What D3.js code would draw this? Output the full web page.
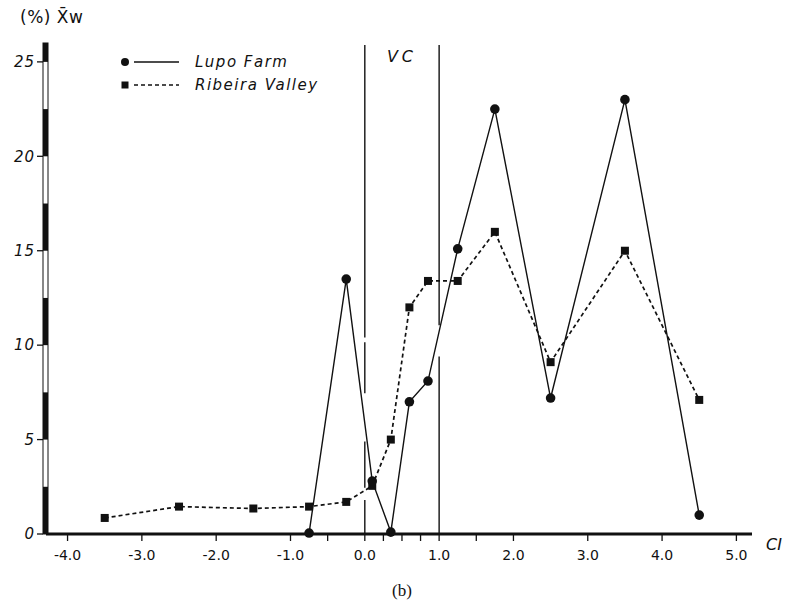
<!DOCTYPE html>
<html>
<head>
<meta charset="utf-8">
<script src="https://cdn.jsdelivr.net/npm/d3@7"></script>
<style>
  body { margin: 0; background: #fff; }
  text { fill: #111; }
</style>
</head>
<body>
<div id="my_dataviz"></div>
<script>
// data
var lupoCI = [-0.75, -0.25, 0.1, 0.35, 0.6, 0.85, 1.25, 1.75, 2.5, 3.5, 4.5];
var lupoXw = [0.05, 13.5, 2.8, 0.1, 7.0, 8.1, 15.1, 22.5, 7.2, 23.0, 1.0];
var ribeiraCI = [-3.5, -2.5, -1.5, -0.75, -0.25, 0.1, 0.35, 0.6, 0.85, 1.25, 1.75, 2.5, 3.5, 4.5];
var ribeiraXw = [0.85, 1.45, 1.35, 1.45, 1.7, 2.55, 5.0, 12.0, 13.4, 13.4, 16.0, 9.1, 15.0, 7.1];
var xTicks = [-4, -3, -2, -1, 0, 1, 2, 3, 4, 5];
var xMinorTicks = [-0.5, 0.25, 0.5, 0.75, 1.5];
var yTicks = [0, 5, 10, 15, 20, 25];
var vcBounds = [0, 1];
var seriesNames = ["Lupo Farm", "Ribeira Valley"];

// set the dimensions and margins of the graph
var margin = {top: 43, right: 35, bottom: 74, left: 46},
    width = 787 - margin.left - margin.right,
    height = 608 - margin.top - margin.bottom;

var svg = d3.select("#my_dataviz")
    .append("svg")
    .attr("width", 787)
    .attr("height", 608)
    .style("font-family", "'DejaVu Sans', sans-serif")
    .append("g")
    .attr("transform", "translate(" + margin.left + "," + margin.top + ")");

var x = d3.scaleLinear().domain([-4.29, 5.21]).range([0, width]);
var y = d3.scaleLinear().domain([0, 26]).range([height, 0]);

var fmt = function(d) { return (d < 0 ? "-" : "") + Math.abs(d).toFixed(1); };

// VC boundary lines (small breaks where other lines cross, like the original)
var vcGaps = [[[1.8, 2.45], [4.9, 7.45], [10.15, 10.4]], [[9.4, 11.05]]];
vcBounds.forEach(function(v, i) {
    var pts = [0].concat(vcGaps[i].flat(), [25.9]);
    for (var k = 0; k < pts.length; k += 2) {
        svg.append("line")
            .attr("x1", x(v)).attr("x2", x(v))
            .attr("y1", y(pts[k])).attr("y2", y(pts[k + 1]))
            .attr("stroke", "#111").attr("stroke-width", 1.4);
    }
});
svg.append("text")
    .attr("x", x(0.5)).attr("y", 19)
    .attr("text-anchor", "middle")
    .style("font-size", "16px").style("font-style", "italic")
    .style("letter-spacing", "4px")
    .text("VC");

// x axis
svg.append("line")
    .attr("x1", 0).attr("x2", width)
    .attr("y1", height).attr("y2", height)
    .attr("stroke", "#111").attr("stroke-width", 3);
svg.selectAll(".xtick")
    .data(xTicks.concat(xMinorTicks))
    .enter().append("line")
    .attr("x1", function(d) { return x(d); })
    .attr("x2", function(d) { return x(d); })
    .attr("y1", height).attr("y2", height + 7)
    .attr("stroke", "#111").attr("stroke-width", 1.3);
svg.selectAll(".xlab")
    .data(xTicks)
    .enter().append("text")
    .attr("x", function(d) { return x(d); })
    .attr("y", height + 26)
    .attr("text-anchor", "middle")
    .style("font-size", "14px")
    .text(fmt);
svg.append("text")
    .attr("x", width + 14).attr("y", height + 16)
    .style("font-size", "16px").style("font-style", "italic")
    .text("CI");

// y axis: banded bar
var band = svg.append("g").attr("transform", "translate(-3,0)");
band.append("rect")
    .attr("x", 0).attr("y", y(26)).attr("width", 5).attr("height", height - y(26))
    .attr("fill", "#fff").attr("stroke", "#111").attr("stroke-width", 1);
band.selectAll(".seg")
    .data([0, 5, 10, 15, 20, 25])
    .enter().append("rect")
    .attr("x", 0)
    .attr("y", function(d) { return y(Math.min(d + 2.5, 26)); })
    .attr("width", 5)
    .attr("height", function(d) { return y(d) - y(Math.min(d + 2.5, 26)); })
    .attr("fill", "#111");
svg.selectAll(".ytick")
    .data(yTicks)
    .enter().append("line")
    .attr("x1", -9).attr("x2", -3)
    .attr("y1", function(d) { return y(d); })
    .attr("y2", function(d) { return y(d); })
    .attr("stroke", "#111").attr("stroke-width", 1.3);
svg.selectAll(".ylab")
    .data(yTicks)
    .enter().append("text")
    .attr("x", -11)
    .attr("y", function(d) { return y(d); })
    .attr("dy", ".35em")
    .attr("text-anchor", "end")
    .style("font-size", "15px").style("font-style", "italic")
    .style("letter-spacing", "1px")
    .text(String);
svg.append("text")
    .attr("x", -26).attr("y", -20)
    .style("font-size", "17px")
    .style("letter-spacing", "0.5px")
    .text("(%) X\u0304w");

// lines
var line = d3.line()
    .x(function(d) { return x(d[0]); })
    .y(function(d) { return y(d[1]); });
var lupo = d3.zip(lupoCI, lupoXw);
var ribeira = d3.zip(ribeiraCI, ribeiraXw);

svg.append("path")
    .datum(ribeira)
    .attr("d", line)
    .attr("fill", "none").attr("stroke", "#111")
    .attr("stroke-width", 1.7).attr("stroke-dasharray", "4,3");
svg.append("path")
    .datum(lupo)
    .attr("d", line)
    .attr("fill", "none").attr("stroke", "#111")
    .attr("stroke-width", 1.4);

svg.selectAll(".sq")
    .data(ribeira)
    .enter().append("rect")
    .attr("x", function(d) { return x(d[0]) - 4; })
    .attr("y", function(d) { return y(d[1]) - 4; })
    .attr("width", 8).attr("height", 8)
    .attr("fill", "#111");
svg.selectAll(".dot")
    .data(lupo)
    .enter().append("circle")
    .attr("cx", function(d) { return x(d[0]); })
    .attr("cy", function(d) { return y(d[1]); })
    .attr("r", 4.8)
    .attr("fill", "#111");

// legend
var legend = svg.append("g").attr("transform", "translate(79,19)");
legend.append("circle").attr("cx", 0).attr("cy", 0).attr("r", 4).attr("fill", "#111");
legend.append("line").attr("x1", 9).attr("x2", 54).attr("y1", 0).attr("y2", 0)
    .attr("stroke", "#111").attr("stroke-width", 1.4);
legend.append("rect").attr("x", -3.5).attr("y", 19.5).attr("width", 7).attr("height", 7).attr("fill", "#111");
legend.append("line").attr("x1", 9).attr("x2", 54).attr("y1", 23).attr("y2", 23)
    .attr("stroke", "#111").attr("stroke-width", 1.4).attr("stroke-dasharray", "4,3");
legend.selectAll(".ltext")
    .data(seriesNames)
    .enter().append("text")
    .attr("x", 70)
    .attr("y", function(d, i) { return i * 23; })
    .attr("dy", ".35em")
    .style("font-size", "15px").style("font-style", "italic")
    .style("letter-spacing", "1.5px")
    .text(String);

// panel label
svg.append("text")
    .attr("x", x(0.5)).attr("y", height + 62)
    .attr("text-anchor", "middle")
    .style("font-family", "'Liberation Serif', serif")
    .style("font-size", "17px")
    .text("(b)");
</script>
</body>
</html>
